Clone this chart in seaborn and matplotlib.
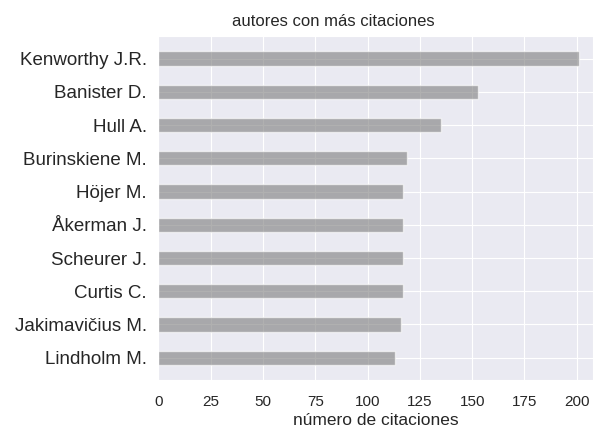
import matplotlib
matplotlib.use("Agg")
import matplotlib.pyplot as plt
import seaborn as sns
import pandas as pd

autores = ['Kenworthy J.R.', 'Banister D.', 'Hull A.', 'Burinskiene M.', 'Höjer M.',
           'Åkerman J.', 'Scheurer J.', 'Curtis C.', 'Jakimavičius M.', 'Lindholm M.']
citaciones = [201, 153, 135, 119, 117, 117, 117, 117, 116, 113]

df = pd.DataFrame({'autor': autores, 'citaciones': citaciones})

sns.set_style('darkgrid')
plt.rcParams['font.family'] = ['Liberation Sans', 'DejaVu Sans']

fig = plt.figure(figsize=(5.93, 4.28), dpi=100)
ax = fig.add_axes([158.5/593, 1-380/428, 1-158.5/593, (380-36)/428])

sns.barplot(data=df, x='citaciones', y='autor', orient='h', color='grey',
            alpha=0.62, width=0.43, saturation=1, ax=ax)

ax.set_xlim(0, 207.8)
ax.set_ylim(9.67, -0.68)
ax.set_xticks(range(0, 201, 25))
ax.xaxis.grid(True)
ax.yaxis.grid(True)
ax.tick_params(axis='y', labelsize=13.5, colors='#262626', pad=5)
ax.tick_params(axis='x', labelsize=11, colors='#262626', pad=7)
ax.set_ylabel('')
ax.set_xlabel('número de citaciones', fontsize=12.5, color='#262626', labelpad=3)
ax.set_title('autores con más citaciones', fontsize=12, color='#262626', pad=7,
             x=(333 - 158.5) / (593 - 158.5))

fig.savefig('out.png', dpi=100)
